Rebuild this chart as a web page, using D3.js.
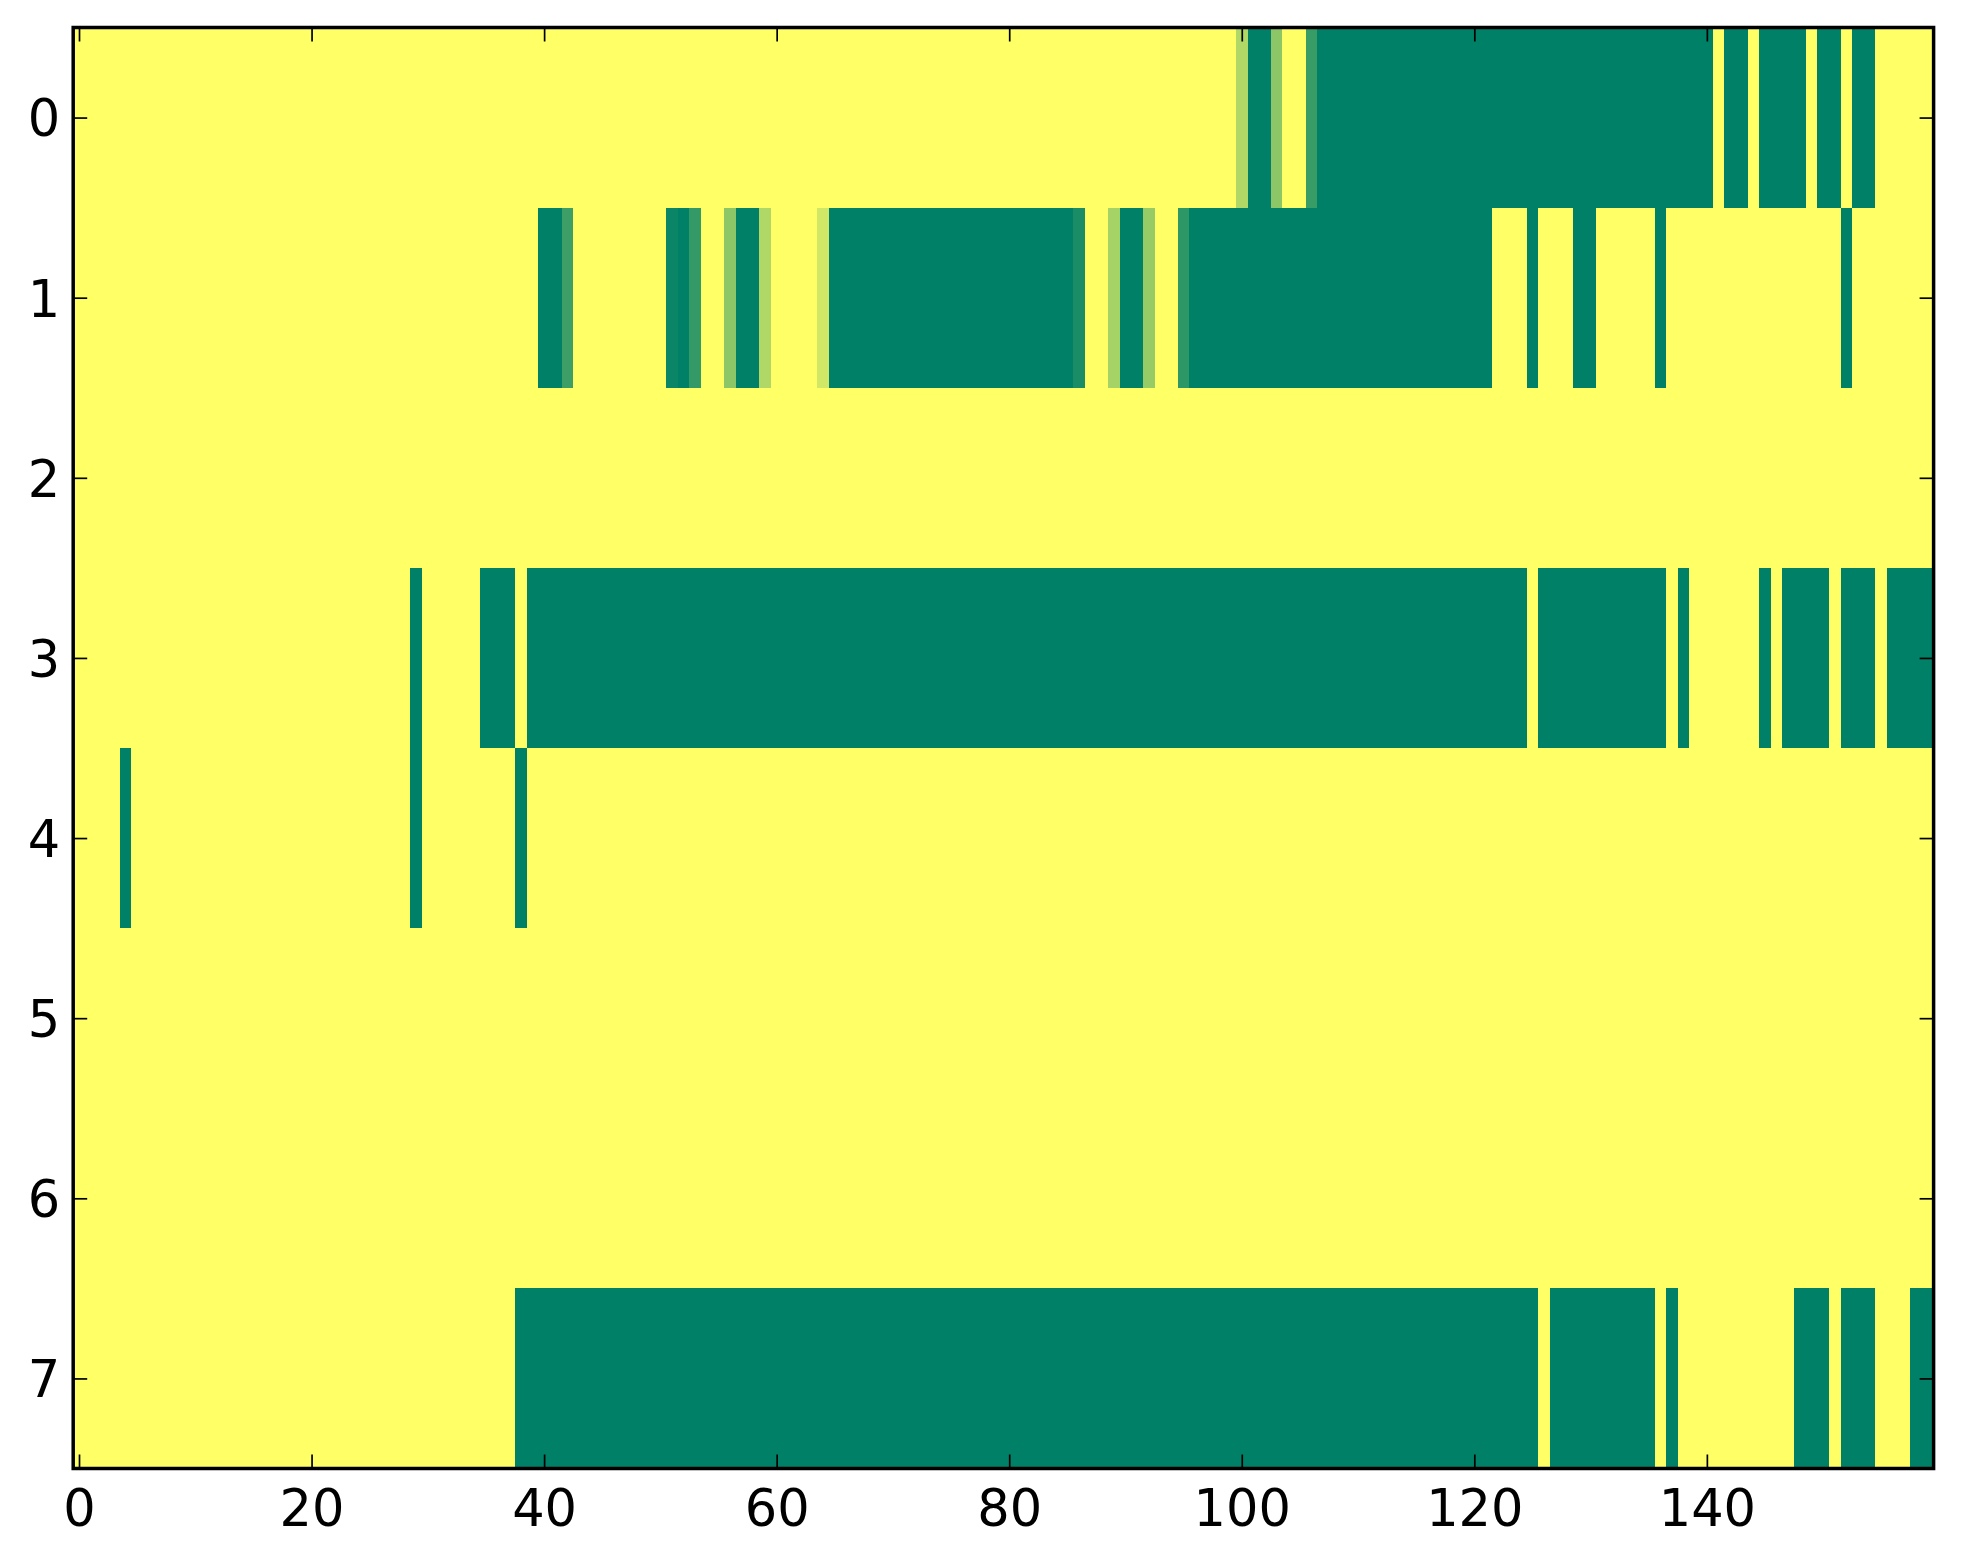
<!DOCTYPE html>
<html>
<head>
<meta charset="utf-8">
<script src="https://cdn.jsdelivr.net/npm/d3@7"></script>
<style>
  html, body { margin: 0; padding: 0; background: #ffffff; }
  svg { display: block; }
  text { font-family: "DejaVu Sans", sans-serif; }
</style>
</head>
<body>
<svg id="chart" width="1963" height="1564"></svg>
<script>
// ---------------- data ----------------
const rowLabels = [0, 1, 2, 3, 4, 5, 6, 7];
const xTickValues = [0, 20, 40, 60, 80, 100, 120, 140];
const nCols = 160;

const row0 = [
  0,0,0,0,0,0,0,0,0,0, 0,0,0,0,0,0,0,0,0,0, 0,0,0,0,0,0,0,0,0,0, 0,0,0,0,0,0,0,0,0,0,
  0,0,0,0,0,0,0,0,0,0, 0,0,0,0,0,0,0,0,0,0, 0,0,0,0,0,0,0,0,0,0, 0,0,0,0,0,0,0,0,0,0,
  0,0,0,0,0,0,0,0,0,0, 0,0,0,0,0,0,0,0,0,0,
  .31,1,1,.45,0,0,.78,1,1,1,
  1,1,1,1,1,1,1,1,1,1,
  1,1,1,1,1,1,1,1,1,1,
  1,1,1,1,1,1,1,1,1,1,
  1,0,1,1,0,1,1,1,1,0,
  1,1,0,1,1,0,0,0,0,0
];
const row1 = [
  0,0,0,0,0,0,0,0,0,0, 0,0,0,0,0,0,0,0,0,0, 0,0,0,0,0,0,0,0,0,0, 0,0,0,0,0,0,0,0,0,0,
  1,1,.76,0,0,0,0,0,0,0,
  0,.96,1,.8,0,0,.45,1,1,.31,
  0,0,0,0,.18,1,1,1,1,1,
  1,1,1,1,1,1,1,1,1,1,
  1,1,1,1,1,1,.9,0,0,.35,
  1,1,.41,0,0,.82,1,1,1,1,
  1,1,1,1,1,1,1,1,1,1,
  1,1,1,1,1,1,1,1,1,1,
  1,1,0,0,0,1,0,0,0,1,
  1,0,0,0,0,0,1,0,0,0,
  0,0,0,0,0,0,0,0,0,0,
  0,0,1,0,0,0,0,0,0,0
];
const row2 = [
  0,0,0,0,0,0,0,0,0,0, 0,0,0,0,0,0,0,0,0,0, 0,0,0,0,0,0,0,0,0,0, 0,0,0,0,0,0,0,0,0,0,
  0,0,0,0,0,0,0,0,0,0, 0,0,0,0,0,0,0,0,0,0, 0,0,0,0,0,0,0,0,0,0, 0,0,0,0,0,0,0,0,0,0,
  0,0,0,0,0,0,0,0,0,0, 0,0,0,0,0,0,0,0,0,0, 0,0,0,0,0,0,0,0,0,0, 0,0,0,0,0,0,0,0,0,0,
  0,0,0,0,0,0,0,0,0,0, 0,0,0,0,0,0,0,0,0,0, 0,0,0,0,0,0,0,0,0,0, 0,0,0,0,0,0,0,0,0,0
];
const row3 = [
  0,0,0,0,0,0,0,0,0,0,
  0,0,0,0,0,0,0,0,0,0,
  0,0,0,0,0,0,0,0,0,1,
  0,0,0,0,0,1,1,1,0,1,
  1,1,1,1,1,1,1,1,1,1, 1,1,1,1,1,1,1,1,1,1, 1,1,1,1,1,1,1,1,1,1, 1,1,1,1,1,1,1,1,1,1,
  1,1,1,1,1,1,1,1,1,1, 1,1,1,1,1,1,1,1,1,1, 1,1,1,1,1,1,1,1,1,1, 1,1,1,1,1,1,1,1,1,1,
  1,1,1,1,1,0,1,1,1,1,
  1,1,1,1,1,1,1,0,1,0,
  0,0,0,0,0,1,0,1,1,1,
  1,0,1,1,1,0,1,1,1,1
];
const row4 = [
  0,0,0,0,1,0,0,0,0,0,
  0,0,0,0,0,0,0,0,0,0,
  0,0,0,0,0,0,0,0,0,1,
  0,0,0,0,0,0,0,0,1,0,
  0,0,0,0,0,0,0,0,0,0, 0,0,0,0,0,0,0,0,0,0, 0,0,0,0,0,0,0,0,0,0, 0,0,0,0,0,0,0,0,0,0,
  0,0,0,0,0,0,0,0,0,0, 0,0,0,0,0,0,0,0,0,0, 0,0,0,0,0,0,0,0,0,0, 0,0,0,0,0,0,0,0,0,0,
  0,0,0,0,0,0,0,0,0,0, 0,0,0,0,0,0,0,0,0,0, 0,0,0,0,0,0,0,0,0,0, 0,0,0,0,0,0,0,0,0,0
];
const row5 = [
  0,0,0,0,0,0,0,0,0,0, 0,0,0,0,0,0,0,0,0,0, 0,0,0,0,0,0,0,0,0,0, 0,0,0,0,0,0,0,0,0,0,
  0,0,0,0,0,0,0,0,0,0, 0,0,0,0,0,0,0,0,0,0, 0,0,0,0,0,0,0,0,0,0, 0,0,0,0,0,0,0,0,0,0,
  0,0,0,0,0,0,0,0,0,0, 0,0,0,0,0,0,0,0,0,0, 0,0,0,0,0,0,0,0,0,0, 0,0,0,0,0,0,0,0,0,0,
  0,0,0,0,0,0,0,0,0,0, 0,0,0,0,0,0,0,0,0,0, 0,0,0,0,0,0,0,0,0,0, 0,0,0,0,0,0,0,0,0,0
];
const row6 = [
  0,0,0,0,0,0,0,0,0,0, 0,0,0,0,0,0,0,0,0,0, 0,0,0,0,0,0,0,0,0,0, 0,0,0,0,0,0,0,0,0,0,
  0,0,0,0,0,0,0,0,0,0, 0,0,0,0,0,0,0,0,0,0, 0,0,0,0,0,0,0,0,0,0, 0,0,0,0,0,0,0,0,0,0,
  0,0,0,0,0,0,0,0,0,0, 0,0,0,0,0,0,0,0,0,0, 0,0,0,0,0,0,0,0,0,0, 0,0,0,0,0,0,0,0,0,0,
  0,0,0,0,0,0,0,0,0,0, 0,0,0,0,0,0,0,0,0,0, 0,0,0,0,0,0,0,0,0,0, 0,0,0,0,0,0,0,0,0,0
];
const row7 = [
  0,0,0,0,0,0,0,0,0,0,
  0,0,0,0,0,0,0,0,0,0,
  0,0,0,0,0,0,0,0,0,0,
  0,0,0,0,0,0,0,0,1,1,
  1,1,1,1,1,1,1,1,1,1, 1,1,1,1,1,1,1,1,1,1, 1,1,1,1,1,1,1,1,1,1, 1,1,1,1,1,1,1,1,1,1,
  1,1,1,1,1,1,1,1,1,1, 1,1,1,1,1,1,1,1,1,1, 1,1,1,1,1,1,1,1,1,1, 1,1,1,1,1,1,1,1,1,1,
  1,1,1,1,1,1,0,1,1,1,
  1,1,1,1,1,1,0,1,0,0,
  0,0,0,0,0,0,0,0,1,1,
  1,0,1,1,1,0,0,0,1,1
];
const rows = [row0, row1, row2, row3, row4, row5, row6, row7];

// ---------------- layout ----------------
const plot = { left: 73.2, right: 1933.6, top: 27.5, bottom: 1468.5 };
const svg = d3.select("#chart");

const x = d3.scaleLinear().domain([-0.5, nCols - 0.5]).range([plot.left, plot.right]);
const y = d3.scaleLinear().domain([-0.5, rowLabels.length - 0.5]).range([plot.top, plot.bottom]);
// matplotlib "summer_r" colormap
const color = d3.scaleLinear().domain([0, 1]).range(["rgb(255,255,102)", "rgb(0,128,102)"]);

const cells = [];
rows.forEach((r, ri) => r.forEach((v, ci) => cells.push({ r: ri, c: ci, v: v })));

svg.append("g")
  .attr("shape-rendering", "crispEdges")
  .selectAll("rect")
  .data(cells)
  .join("rect")
  .attr("x", d => x(d.c - 0.5))
  .attr("y", d => y(d.r - 0.5))
  .attr("width", d => x(d.c + 0.5) - x(d.c - 0.5) + 0.6)
  .attr("height", d => y(d.r + 0.5) - y(d.r - 0.5) + 0.6)
  .attr("fill", d => color(d.v));

// ---------------- axes ----------------
const fontSize = 51;
const tickLen = 14;

function styleAxis(g, showLabels) {
  g.select(".domain").remove();
  g.selectAll(".tick line").attr("stroke", "#000").attr("stroke-width", 1.7);
  g.selectAll(".tick text")
    .attr("fill", "#000")
    .style("font-size", fontSize + "px")
    .style("font-family", "'DejaVu Sans', sans-serif");
  if (!showLabels) g.selectAll(".tick text").remove();
}

svg.append("g")
  .attr("transform", `translate(0,${plot.bottom})`)
  .call(d3.axisBottom(x).tickValues(xTickValues).tickFormat(d3.format("d"))
    .tickSizeInner(-tickLen).tickSizeOuter(0).tickPadding(21))
  .call(g => styleAxis(g, true));

svg.append("g")
  .attr("transform", `translate(0,${plot.top})`)
  .call(d3.axisTop(x).tickValues(xTickValues)
    .tickSizeInner(-tickLen).tickSizeOuter(0))
  .call(g => styleAxis(g, false));

svg.append("g")
  .attr("transform", `translate(${plot.left},0)`)
  .call(d3.axisLeft(y).tickValues(rowLabels).tickFormat(d3.format("d"))
    .tickSizeInner(-tickLen).tickSizeOuter(0).tickPadding(13))
  .call(g => styleAxis(g, true))
  .call(g => g.selectAll(".tick text").attr("dy", "0.36em"));

svg.append("g")
  .attr("transform", `translate(${plot.right},0)`)
  .call(d3.axisRight(y).tickValues(rowLabels)
    .tickSizeInner(-tickLen).tickSizeOuter(0))
  .call(g => styleAxis(g, false));

// frame (spines)
svg.append("rect")
  .attr("x", plot.left)
  .attr("y", plot.top)
  .attr("width", plot.right - plot.left)
  .attr("height", plot.bottom - plot.top)
  .attr("fill", "none")
  .attr("stroke", "#000")
  .attr("stroke-width", 3.5);
</script>
</body>
</html>
